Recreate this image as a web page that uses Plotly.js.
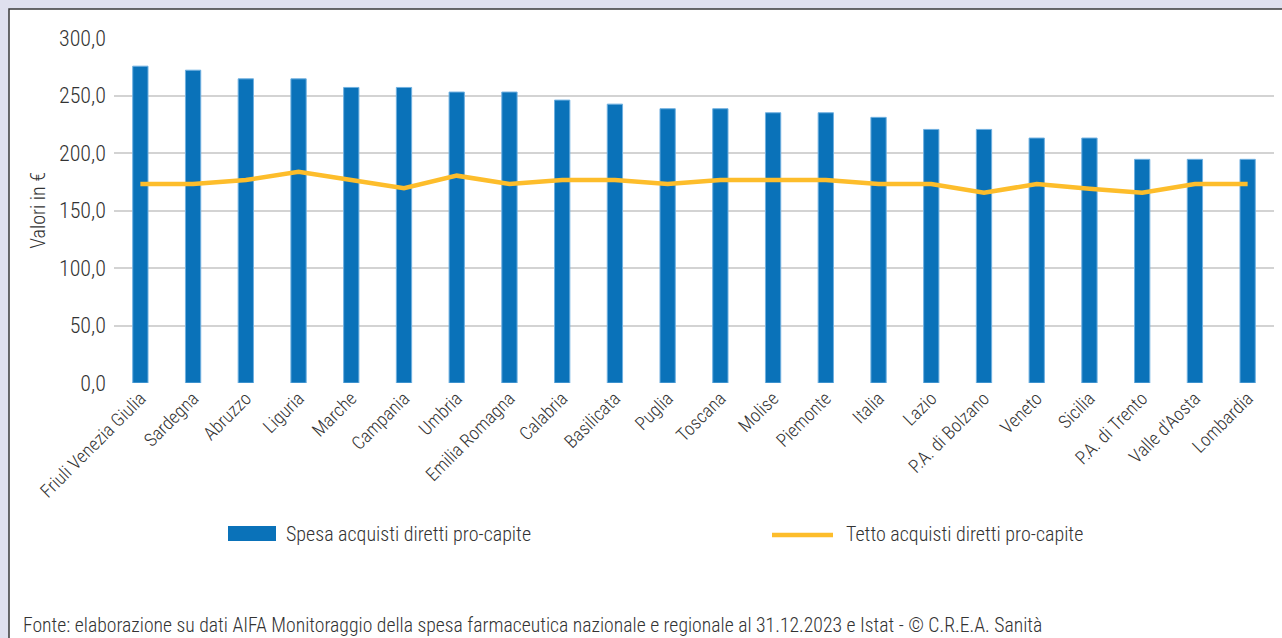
<!DOCTYPE html>
<html>
<head>
<meta charset="utf-8">
<script src="https://cdn.plot.ly/plotly-3.0.1.min.js"></script>
<style>
  html, body { margin: 0; padding: 0; background: #dfe0ee; }
  #chart { width: 1282px; height: 638px; }
</style>
</head>
<body>
<div id="chart"></div>
<script>
// ---- data ----
const categories = ["Friuli Venezia Giulia","Sardegna","Abruzzo","Liguria","Marche","Campania","Umbria","Emilia Romagna","Calabria","Basilicata","Puglia","Toscana","Molise","Piemonte","Italia","Lazio","P.A. di Bolzano","Veneto","Sicilia","P.A. di Trento","Valle d'Aosta","Lombardia"];
const spesaProCapite = [275.5, 272.0, 264.5, 264.5, 257.0, 257.0, 253.0, 253.0, 246.0, 242.5, 238.5, 238.5, 235.0, 235.0, 231.0, 220.5, 220.5, 213.0, 213.0, 194.5, 194.5, 194.5];
const tettoProCapite = [173.0, 173.0, 176.5, 183.7, 176.5, 169.3, 180.3, 173.0, 176.5, 176.5, 173.0, 176.5, 176.5, 176.5, 173.0, 173.0, 165.5, 173.0, 169.0, 165.5, 173.0, 173.0];
const yTickVals = [0, 50, 100, 150, 200, 250, 300];
const yTickText = ["0,0", "50,0", "100,0", "150,0", "200,0", "250,0", "300,0"];
const seriesNames = ["Spesa acquisti diretti pro-capite", "Tetto acquisti diretti pro-capite"];
const yTitle = "Valori in €";
const sourceText = "Fonte: elaborazione su dati AIFA Monitoraggio della spesa farmaceutica nazionale e regionale al 31.12.2023 e Istat - © C.R.E.A. Sanità";

// ---- style ----
const FONT = '"Roboto Condensed", "Liberation Sans Narrow", "Arial Narrow", "Liberation Sans", Arial, sans-serif';
const TXT = '#333333';
const BLUE = '#0a72b9';
const GOLD = '#fdbd2b';
const W = 1282, H = 638;
const M = {l: 114, r: 8, t: 38, b: 255};
const PW = W - M.l - M.r, PH = H - M.t - M.b;
const px = x => (x - M.l) / PW;
const py = y => (H - M.b - y) / PH;
const f = (size) => ({family: FONT, size: size, color: TXT, weight: 300});

const traces = [
  {
    type: 'bar', name: seriesNames[0], x: categories, y: spesaProCapite,
    marker: {color: BLUE, line: {color: '#6fb0e0', width: 1}},
    hoverinfo: 'x+y'
  },
  {
    type: 'scatter', mode: 'lines', name: seriesNames[1], x: categories, y: tettoProCapite,
    line: {color: GOLD, width: 4.5}, hoverinfo: 'x+y'
  }
];

const layout = {
  width: W, height: H,
  margin: M,
  paper_bgcolor: '#dfe0ee',
  plot_bgcolor: 'rgba(0,0,0,0)',
  showlegend: false,
  bargap: 0.71,
  font: f(19),
  xaxis: {
    type: 'category', tickangle: -45, showgrid: false, zeroline: false,
    showline: false, ticks: '', automargin: false,
    tickfont: f(18.5)
  },
  yaxis: {
    range: [0, 300], tickvals: yTickVals, ticktext: yTickText,
    showgrid: true, gridcolor: '#d3d3d3', gridwidth: 2, zeroline: false,
    showline: false, ticks: '', automargin: false, ticklabelstandoff: 7,
    tickfont: f(22),
    title: {text: yTitle, standoff: 7, font: f(20)}
  },
  shapes: [
    {type: 'rect', xref: 'paper', yref: 'paper', layer: 'below',
     x0: px(9), x1: px(1300), y0: py(9), y1: py(660),
     fillcolor: '#ffffff', line: {color: '#3a3a3a', width: 1.5}},
    {type: 'rect', xref: 'paper', yref: 'paper',
     x0: px(228), x1: px(276), y0: py(526), y1: py(541),
     fillcolor: BLUE, line: {width: 0}},
    {type: 'line', xref: 'paper', yref: 'paper',
     x0: px(772), x1: px(833), y0: py(535), y1: py(535),
     line: {color: GOLD, width: 4.5}}
  ],
  annotations: [
    {xref: 'paper', yref: 'paper', x: px(284), y: py(534), xanchor: 'left', yanchor: 'middle',
     text: seriesNames[0], showarrow: false, font: f(20)},
    {xref: 'paper', yref: 'paper', x: px(844), y: py(534), xanchor: 'left', yanchor: 'middle',
     text: seriesNames[1], showarrow: false, font: f(20)},
    {xref: 'paper', yref: 'paper', x: px(21), y: py(625), xanchor: 'left', yanchor: 'middle',
     text: sourceText, showarrow: false, font: f(19.7)}
  ]
};

Plotly.newPlot('chart', traces, layout, {displayModeBar: false, staticPlot: true});
</script>
</body>
</html>
